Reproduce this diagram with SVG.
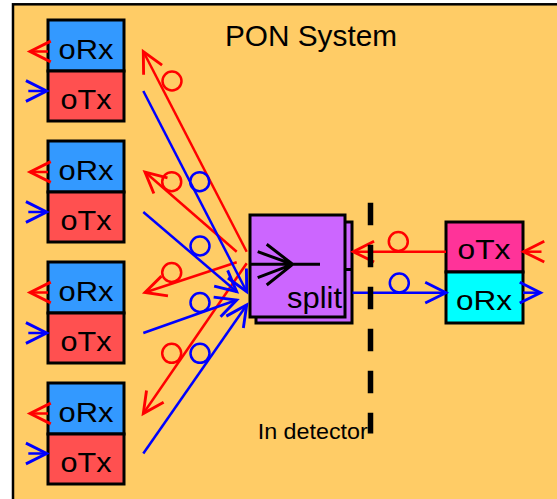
<svg xmlns="http://www.w3.org/2000/svg" width="557" height="499" viewBox="0 0 557 499">
<style>
.box{stroke:#000;stroke-width:3}
.rx{fill:#3399FF}
.tx{fill:#FF5050}
.t{font-family:"Liberation Sans",Arial,sans-serif;fill:#000}
.lbl{font-size:28px;text-anchor:middle}
.r{stroke:#FF0000;stroke-width:2.5;fill:none}
.b{stroke:#0000FF;stroke-width:2.5;fill:none}
.ra{marker-end:url(#ar)}
.ba{marker-end:url(#ab)}
</style>
<defs>
<marker id="ar" markerUnits="userSpaceOnUse" markerWidth="30" markerHeight="30" viewBox="-22 -13 26 26" refX="0" refY="0" orient="auto" overflow="visible">
<path d="M-18,-9 L0,0 L-18,9" fill="none" stroke="#FF0000" stroke-width="2.5"/>
</marker>
<marker id="ab" markerUnits="userSpaceOnUse" markerWidth="30" markerHeight="30" viewBox="-22 -13 26 26" refX="0" refY="0" orient="auto" overflow="visible">
<path d="M-18,-9 L0,0 L-18,9" fill="none" stroke="#0000FF" stroke-width="2.5"/>
</marker>
</defs>
<rect x="0" y="0" width="557" height="499" fill="#FFFFFF"/>
<g id="system">
<rect x="13" y="4.3" width="600" height="600" fill="#FFCC66" stroke="#000" stroke-width="2.5"/>
<text class="t" x="225" y="45.7" font-size="30" textLength="172" lengthAdjust="spacingAndGlyphs">PON System</text>
<text class="t" x="257.7" y="439.3" font-size="22" textLength="110" lengthAdjust="spacingAndGlyphs">In detector</text>
</g>
<g id="onu1">
<rect class="box rx" x="48" y="20" width="76" height="51"/>
<rect class="box tx" x="48" y="71" width="76" height="50"/>
<text class="t lbl" x="86" y="58.5" textLength="55" lengthAdjust="spacingAndGlyphs">oRx</text>
<text class="t lbl" x="86" y="108.5" textLength="51" lengthAdjust="spacingAndGlyphs">oTx</text>
</g>
<g id="onu2">
<rect class="box rx" x="48" y="141" width="76" height="51"/>
<rect class="box tx" x="48" y="192" width="76" height="50"/>
<text class="t lbl" x="86" y="179.5" textLength="55" lengthAdjust="spacingAndGlyphs">oRx</text>
<text class="t lbl" x="86" y="229.5" textLength="51" lengthAdjust="spacingAndGlyphs">oTx</text>
</g>
<g id="onu3">
<rect class="box rx" x="48" y="262" width="76" height="51"/>
<rect class="box tx" x="48" y="313" width="76" height="50"/>
<text class="t lbl" x="86" y="300.5" textLength="55" lengthAdjust="spacingAndGlyphs">oRx</text>
<text class="t lbl" x="86" y="350.5" textLength="51" lengthAdjust="spacingAndGlyphs">oTx</text>
</g>
<g id="onu4">
<rect class="box rx" x="48" y="383" width="76" height="51"/>
<rect class="box tx" x="48" y="434" width="76" height="50"/>
<text class="t lbl" x="86" y="421.5" textLength="55" lengthAdjust="spacingAndGlyphs">oRx</text>
<text class="t lbl" x="86" y="471.5" textLength="51" lengthAdjust="spacingAndGlyphs">oTx</text>
</g>
<g id="splitter">
<rect class="box" x="256" y="222" width="96" height="101" fill="#CC66FF"/>
<line x1="345" y1="269.5" x2="352" y2="269.5" stroke="#000" stroke-width="3"/>
<rect class="box" x="250" y="215" width="95" height="102" fill="#CC66FF"/>
<path d="M250,264.3 L320,264.3 M266.7,244.3 L292.7,264.3 L266.7,285 M257.7,251.7 L292.7,264.3 L257.7,277.7" fill="none" stroke="#000" stroke-width="3"/>
<text class="t" x="287" y="308" font-size="29" textLength="55" lengthAdjust="spacingAndGlyphs">split</text>
</g>
<g id="olt">
<rect class="box" x="446" y="222" width="77" height="50" fill="#FF3399"/>
<rect class="box" x="446" y="272" width="77" height="51" fill="#00FFFF"/>
<text class="t lbl" x="484" y="258.5" textLength="53" lengthAdjust="spacingAndGlyphs">oTx</text>
<text class="t lbl" x="484" y="309.5" textLength="56" lengthAdjust="spacingAndGlyphs">oRx</text>
</g>
<g id="connectors">
<line class="r ra" x1="48" y1="51.5" x2="30" y2="51.5"/>
<line class="b ba" x1="28.3" y1="91" x2="46.7" y2="91"/>
<line class="r ra" x1="48" y1="172" x2="30" y2="172"/>
<line class="b ba" x1="28.3" y1="212" x2="46.7" y2="212"/>
<line class="r ra" x1="48" y1="292.5" x2="30" y2="292.5"/>
<line class="b ba" x1="28.3" y1="333" x2="46.7" y2="333"/>
<line class="r ra" x1="48" y1="413.5" x2="30" y2="413.5"/>
<line class="b ba" x1="28.3" y1="453.5" x2="46.7" y2="453.5"/>
<line class="r ra" x1="246.7" y1="251.7" x2="143.3" y2="51.5"/>
<line class="r ra" x1="236.7" y1="251.7" x2="145" y2="172"/>
<line class="r ra" x1="236.7" y1="262.3" x2="145" y2="292.5"/>
<line class="r ra" x1="246.7" y1="263.3" x2="143.3" y2="413.5"/>
<line class="b ba" x1="143.3" y1="91" x2="246.7" y2="291.7"/>
<line class="b ba" x1="143.3" y1="212" x2="236.7" y2="291.7"/>
<line class="b ba" x1="143.3" y1="333" x2="236.7" y2="300"/>
<line class="b ba" x1="143.3" y1="453.5" x2="246.7" y2="305"/>
<circle class="r" cx="172" cy="81" r="9.5"/>
<circle class="r" cx="171.7" cy="181.7" r="9.5"/>
<circle class="b" cx="199.7" cy="181.7" r="9.5"/>
<circle class="b" cx="200" cy="246" r="9.5"/>
<circle class="r" cx="171.7" cy="272.5" r="9.5"/>
<circle class="b" cx="200" cy="302.5" r="9.5"/>
<circle class="r" cx="171.7" cy="353.3" r="9.5"/>
<circle class="b" cx="200" cy="353.3" r="9.5"/>
<line class="r ra" x1="446" y1="251.7" x2="353.3" y2="251.7"/>
<line class="b ba" x1="352.5" y1="292.7" x2="446" y2="292.7"/>
<circle class="r" cx="398.3" cy="241.5" r="9.5"/>
<circle class="b" cx="399.3" cy="283" r="9.5"/>
<line class="r ra" x1="541.5" y1="251.7" x2="523.5" y2="251.7"/>
<line class="b ba" x1="523" y1="292.7" x2="540.5" y2="292.7"/>
</g>
<line x1="370.5" y1="202.7" x2="370.5" y2="433.5" stroke="#000" stroke-width="5.5" stroke-dasharray="22.5 19.5"/>
</svg>
